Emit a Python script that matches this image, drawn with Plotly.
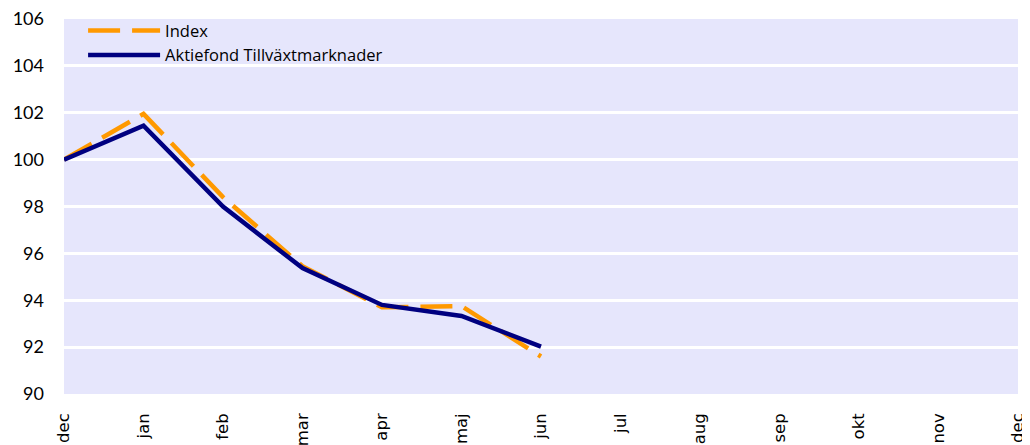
import plotly.graph_objects as go

# months from december (0) to december (12)
month_pos = list(range(13))
month_labels = ["dec", "jan", "feb", "mar", "apr", "maj", "jun",
                "jul", "aug", "sep", "okt", "nov", "dec"]

index_x = [0, 1, 2, 3, 4, 5, 6]
index_vals = [100.0, 101.95, 98.4, 95.45, 93.7, 93.75, 91.6]

fund_x = [0, 1, 2, 3, 4, 5, 6]
fund_vals = [100.0, 101.45, 98.0, 95.37, 93.8, 93.33, 92.02]

y_ticks = [90, 92, 94, 96, 98, 100, 102, 104, 106]

fig = go.Figure()

fig.add_trace(go.Scatter(
    x=index_x, y=index_vals, name="Index", mode="lines",
    line=dict(color="#FF9900", width=4.5, dash="32px,12px"),
))
fig.add_trace(go.Scatter(
    x=fund_x, y=fund_vals, name="Aktiefond Tillväxtmarknader", mode="lines",
    line=dict(color="#000080", width=4.5),
))

# the page puts the figure 8px in from the top-left corner
fig.update_layout(
    width=1022, height=437,
    margin=dict(l=56, r=12, t=11, b=51, autoexpand=False),
    paper_bgcolor="white",
    plot_bgcolor="#E6E6FC",
    font=dict(family="Lato", color="black"),
    legend=dict(
        x=0.02, y=1.015, xanchor="left", yanchor="top",
        bgcolor="rgba(0,0,0,0)", font=dict(size=16.5, family="Open Sans"),
        itemwidth=72, tracegroupgap=0,
    ),
)

fig.update_xaxes(
    range=[0, 12], tickmode="array", tickvals=month_pos, ticktext=month_labels,
    tickangle=-90, tickfont=dict(family="DejaVu Sans", size=16.5),
    showgrid=False, zeroline=False, showline=False, ticks="",
    automargin=False, ticklabelstandoff=15, ticklabeloverflow="allow",
)
fig.update_yaxes(
    range=[90, 106], tickmode="array", tickvals=y_ticks,
    tickfont=dict(family="Lato", size=18),
    showgrid=True, gridcolor="white", gridwidth=2.5,
    zeroline=False, showline=False, ticks="",
    automargin=False, ticklabelstandoff=19, ticklabeloverflow="allow",
)

fig.write_html("out.html")
